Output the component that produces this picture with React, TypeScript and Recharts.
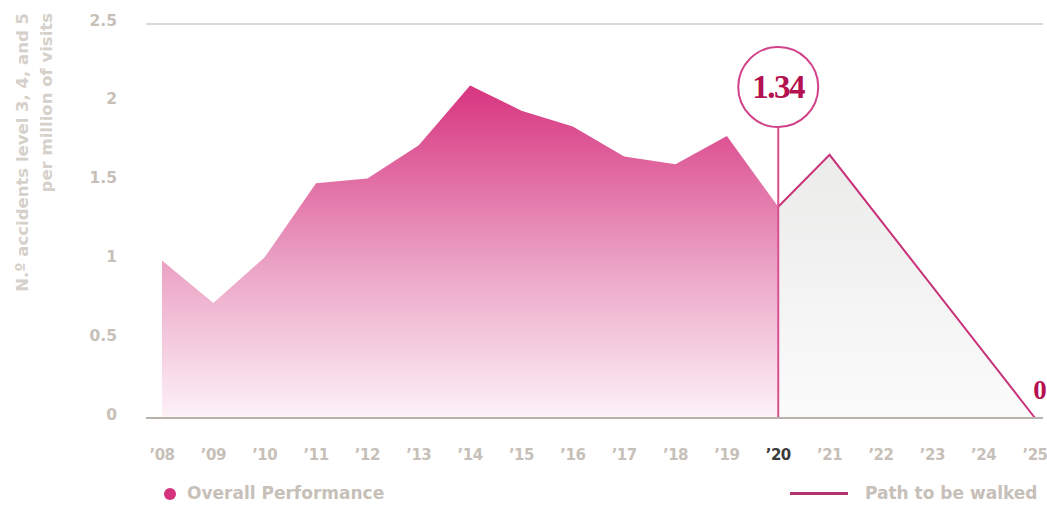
import React from "react";
import { Area, ComposedChart, Legend, ReferenceDot, ReferenceLine, XAxis, YAxis } from "recharts";

const years = ["’08", "’09", "’10", "’11", "’12", "’13", "’14", "’15", "’16", "’17", "’18", "’19", "’20", "’21", "’22", "’23", "’24", "’25"];
const performance = [1.0, 0.73, 1.02, 1.49, 1.52, 1.73, 2.11, 1.95, 1.85, 1.66, 1.61, 1.79, 1.34, null, null, null, null, null];
const path = [null, null, null, null, null, null, null, null, null, null, null, null, 1.34, 1.67, null, null, null, 0];
const yTicks = [0, 0.5, 1, 1.5, 2, 2.5];

const data = years.map((year, i) => ({ year, performance: performance[i], path: path[i] }));

const currentYear = "’20";
const pink = "#d6337e";
const crimson = "#b3114f";
const muted = "#c7c0b9";
const font = "'DejaVu Sans', sans-serif";

function YearTick({ x, y, payload }: any) {
  const current = payload.value === currentYear;
  return (
    <text x={x} y={y} dy={12} textAnchor="middle" fontFamily={font} fontWeight={700} fontSize={15} letterSpacing={-0.5} fill={current ? "#3b3b3b" : muted}>
      {payload.value}
    </text>
  );
}

function YTitle() {
  return (
    <text fontFamily={font} fontWeight={700} fontSize={16.5} fill="#d6d0ca" textAnchor="end" transform="rotate(-90)">
      <tspan x={-13} y={28}>N.º accidents level 3, 4, and 5</tspan>
      <tspan x={-13} y={52}>per million of visits</tspan>
    </text>
  );
}

function Badge({ cx, cy }: any) {
  return (
    <g>
      <circle cx={cx} cy={cy} r={40} fill="#fff" stroke="#d2428a" strokeWidth={2} />
      <text x={cx} y={cy + 11} textAnchor="middle" fontFamily="'Liberation Serif', serif" fontWeight={700} fontSize={33} letterSpacing={-1.5} fill={crimson}>
        {performance[12]}
      </text>
    </g>
  );
}

function ZeroLabel({ cx, cy }: any) {
  return (
    <text x={cx + 5} y={cy - 19} textAnchor="middle" fontFamily="'Liberation Serif', serif" fontWeight={700} fontSize={27} fill={crimson}>
      {path[path.length - 1]}
    </text>
  );
}

function LegendRow() {
  const text = { fontFamily: font, fontWeight: 700, fontSize: 17, color: muted, whiteSpace: "nowrap" as const };
  return (
    <div style={{ position: "relative", width: 1047, height: 24 }}>
      <span style={{ position: "absolute", left: 164, top: 8, width: 12, height: 12, borderRadius: 6, background: pink }} />
      <span style={{ ...text, position: "absolute", left: 187, top: 3 }}>Overall Performance</span>
      <span style={{ position: "absolute", left: 790, top: 12, width: 58, height: 3, background: "#b3326c" }} />
      <span style={{ ...text, position: "absolute", left: 865, top: 3 }}>Path to be walked</span>
    </div>
  );
}

export default function App() {
  return (
    <div style={{ position: "absolute", left: 0, top: 0, background: "#fff" }}>
      <ComposedChart width={1047} height={505} data={data} margin={{ top: 24, right: 4, bottom: 13, left: 0 }}>
        <defs>
          <linearGradient id="perfFill" x1="0" x2="0" y1="0" y2="1">
            <stop offset="0%" stopColor="#d7347f" />
            <stop offset="55%" stopColor="#eba4c6" />
            <stop offset="100%" stopColor="#fdf2f7" />
          </linearGradient>
          <linearGradient id="pathFill" x1="0" x2="0" y1="0" y2="1">
            <stop offset="0%" stopColor="#ebebea" />
            <stop offset="100%" stopColor="#fbfbfb" />
          </linearGradient>
        </defs>
        <XAxis
          dataKey="year"
          scale="point"
          padding={{ left: 16, right: 8 }}
          axisLine={{ stroke: "#b8b2ad", strokeWidth: 2 }}
          tickLine={false}
          tick={<YearTick />}
          tickMargin={24}
          height={50}
          interval={0}
        />
        <YAxis
          domain={[0, 2.5]}
          ticks={yTicks}
          width={146}
          axisLine={false}
          tickLine={false}
          tickMargin={23}
          tick={{ fontFamily: font, fontWeight: 700, fontSize: 15.5, fill: muted, dy: -4 }}
          label={{ content: () => <YTitle /> }}
        />
        <ReferenceLine y={2.5} stroke="#ddd8d3" strokeWidth={2} />
        <Area type="linear" dataKey="performance" stroke="none" fill="url(#perfFill)" fillOpacity={1} isAnimationActive={false} />
        <Area type="linear" dataKey="path" connectNulls stroke="#c8327a" strokeWidth={2} fill="url(#pathFill)" fillOpacity={1} dot={false} activeDot={false} isAnimationActive={false} />
        <ReferenceLine segment={[{ x: currentYear, y: 0 }, { x: currentYear, y: 1.85 }]} stroke="#d9508f" strokeWidth={2} />
        <ReferenceDot x={currentYear} y={2.1} r={40} shape={<Badge />} />
        <ReferenceDot x="’25" y={0} r={0} shape={<ZeroLabel />} />
        <Legend verticalAlign="bottom" content={() => <LegendRow />} wrapperStyle={{ left: 0, bottom: 1, width: 1047, height: 24 }} />
      </ComposedChart>
    </div>
  );
}
